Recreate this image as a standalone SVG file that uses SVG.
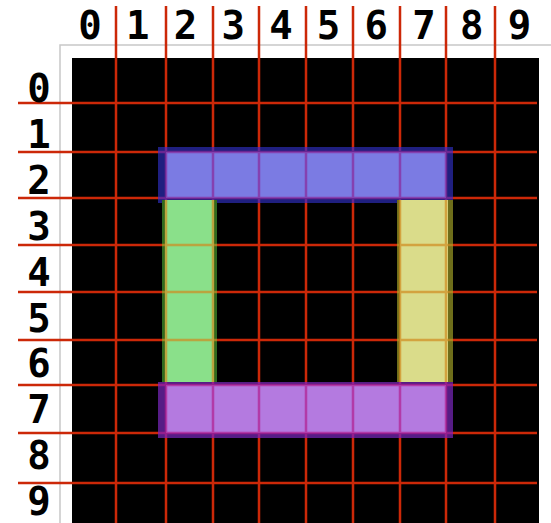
<svg xmlns="http://www.w3.org/2000/svg" width="551" height="523" viewBox="0 0 551 523">
<style>
.lbl{font-family:"DejaVu Sans Mono","Liberation Mono",monospace;font-weight:bold;font-size:39px;fill:#000;text-anchor:middle}
.grid line{stroke:#cc2808;stroke-width:2.5}
.ov{fill:none;stroke-width:2.5;stroke-opacity:0.7}
</style>
<rect width="551" height="523" fill="#fff"/>
<path d="M60 523V45H551" fill="none" stroke="#c8c8c8" stroke-width="1.5"/>
<rect x="72" y="58" width="467" height="465" fill="#000"/>
<g id="connectors" class="grid">
<line x1="116" y1="6" x2="116" y2="523"/>
<line x1="166" y1="6" x2="166" y2="523"/>
<line x1="213" y1="6" x2="213" y2="523"/>
<line x1="259" y1="6" x2="259" y2="523"/>
<line x1="306" y1="6" x2="306" y2="523"/>
<line x1="353" y1="6" x2="353" y2="523"/>
<line x1="400" y1="6" x2="400" y2="523"/>
<line x1="446" y1="6" x2="446" y2="523"/>
<line x1="495" y1="6" x2="495" y2="523"/>
<line x1="18" y1="103" x2="537" y2="103"/>
<line x1="18" y1="152" x2="537" y2="152"/>
<line x1="18" y1="198" x2="537" y2="198"/>
<line x1="18" y1="245" x2="537" y2="245"/>
<line x1="18" y1="292" x2="537" y2="292"/>
<line x1="18" y1="340" x2="537" y2="340"/>
<line x1="18" y1="385" x2="537" y2="385"/>
<line x1="18" y1="433" x2="537" y2="433"/>
<line x1="18" y1="483" x2="537" y2="483"/>
</g>
<g id="bar-blue">
<rect x="158" y="147" width="295" height="56" fill="#1f1f80"/>
<rect x="166" y="152" width="280" height="46" fill="#7b7be3"/>
<path class="ov" stroke="#8a2a9a" d="M166 147V203M213 147V203M259 147V203M306 147V203M353 147V203M400 147V203M446 147V203M158 152H453M158 198H453"/>
</g>
<g id="bar-green">
<rect x="162" y="200" width="55" height="184" fill="#2f6a1f"/>
<rect x="165" y="200" width="49" height="184" fill="#8ae08a"/>
<path class="ov" stroke="#d08a20" d="M166 200V384M213 200V384M162 245H217M162 292H217M162 340H217"/>
</g>
<g id="bar-yellow">
<rect x="397" y="200" width="56" height="184" fill="#6e6e1a"/>
<rect x="400" y="200" width="48" height="184" fill="#dadc8a"/>
<path class="ov" stroke="#d08a20" d="M400 200V384M446 200V384M397 245H453M397 292H453M397 340H453"/>
</g>
<g id="bar-purple">
<rect x="158" y="382" width="295" height="56" fill="#561c86"/>
<rect x="166" y="385" width="280" height="48" fill="#b47ae0"/>
<path class="ov" stroke="#b02090" d="M166 382V438M213 382V438M259 382V438M306 382V438M353 382V438M400 382V438M446 382V438M158 385H453M158 433H453"/>
</g>
<g id="col-labels">
<text class="lbl" x="90" y="39">0</text>
<text class="lbl" x="137.7" y="39">1</text>
<text class="lbl" x="185.4" y="39">2</text>
<text class="lbl" x="233.2" y="39">3</text>
<text class="lbl" x="280.9" y="39">4</text>
<text class="lbl" x="328.6" y="39">5</text>
<text class="lbl" x="376.3" y="39">6</text>
<text class="lbl" x="424" y="39">7</text>
<text class="lbl" x="471.8" y="39">8</text>
<text class="lbl" x="519.5" y="39">9</text>
</g>
<g id="row-labels">
<text class="lbl" x="39" y="102">0</text>
<text class="lbl" x="39" y="148">1</text>
<text class="lbl" x="39" y="194">2</text>
<text class="lbl" x="39" y="240">3</text>
<text class="lbl" x="39" y="286">4</text>
<text class="lbl" x="39" y="332">5</text>
<text class="lbl" x="39" y="377">6</text>
<text class="lbl" x="39" y="423">7</text>
<text class="lbl" x="39" y="469">8</text>
<text class="lbl" x="39" y="515">9</text>
</g>
</svg>
